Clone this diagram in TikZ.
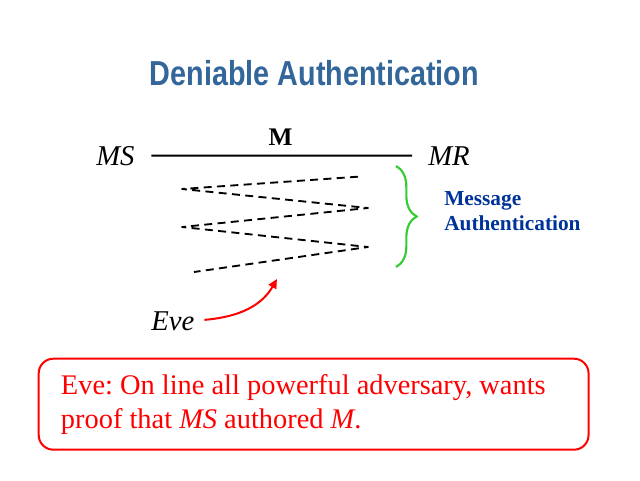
\documentclass[tikz,border=0pt]{standalone}
\usepackage{fontspec}
\setmainfont{Liberation Serif}
\newfontfamily\titlefont{Liberation Sans}[FakeStretch = 0.83]
\usepackage{xcolor}
\usepackage{tikz}
\usetikzlibrary{arrows.meta}
\usetikzlibrary{decorations.pathreplacing}
\definecolor{titleblue}{RGB}{51,102,153}
\definecolor{noteblue}{RGB}{0,51,153}
\definecolor{bracegreen}{RGB}{51,204,51}
\tikzset{ 
title text/.style = { inner sep = 0pt, text = titleblue, font = \titlefont\bfseries\fontsize{26}{30}\selectfont },
party/.style = { inner sep = 0pt, font = \itshape\fontsize{21.5}{26}\selectfont },
msg label/.style = { inner sep = 0pt, font = \bfseries\fontsize{19}{23}\selectfont },
note text/.style = { inner sep = 0pt, text = noteblue, font = \bfseries\fontsize{16}{19}\selectfont },
main line/.style = { draw = black, line width = 1.5pt },
msg line/.style = { draw = black, line width = 1.4pt, line join = round, dash pattern = on 6pt off 4pt },
green brace/.style = { draw = bracegreen, line width = 1.6pt, decorate, decoration = { brace, amplitude = 15.5pt } },
eve arrow/.style = { draw = red, line width = 1.5pt, -{Triangle[length = 7pt, width = 6.5pt]} },
eve box/.style = { rectangle, draw = red, line width = 1.5pt, rounded corners = 11pt, text = red, align = flush left, text width = 379pt, inner xsep = 16.7pt, inner ysep = 0pt, minimum height = 68.25pt, font = \fontsize{21.3}{25.5}\selectfont\frenchspacing },
}

\begin{document}
\begin{tikzpicture}[x = 0.75pt, y = 0.75pt]
    \useasboundingbox (0, 0) rectangle (640, 480);
    % title
    \node[title text, anchor = base] (title) at (314.5, 394.3) {Deniable Authentication};
    % sender and receiver
    \node[party, anchor = base west] (ms) at (96, 315) {MS};
    \node[party, anchor = base west] (mr) at (428, 315) {MR};
    \draw[main line, shorten <= 12.5pt, shorten >= 12pt] (ms) -- (mr);
    \node[msg label, anchor = base] (msg) at (280.5, 335) {M};
    % authentication exchange
    \coordinate (a1) at (358, 303.3);
    \coordinate (b1) at (182, 291);
    \coordinate (a2) at (368, 272);
    \coordinate (b2) at (182, 253);
    \coordinate (a3) at (368, 233);
    \coordinate (b3) at (194, 208);
    \draw[msg line] (a1) -- (b1) -- (a2) -- (b2) -- (a3) -- (b3);
    \coordinate (brace top) at (396, 314);
    \coordinate (brace bottom) at (396, 213);
    \draw[green brace] (brace top) -- (brace bottom);
    \node[note text, anchor = base west] (note1) at (444, 275) {Message};
    \node[note text, anchor = base west] (note2) at (444, 250) {Authentication};
    % adversary
    \node[party, anchor = base west] (eve) at (151, 150) {Eve};
    \coordinate (tap) at (277, 201);
    \draw[eve arrow, shorten <= 7.5pt] (eve.east) to[out = 5, in = -120] (tap);
    \node[eve box, anchor = north west] (box) at (37.7, 122.3) {Eve: On line all powerful adversary, wants\\proof that \textit{MS} authored \textit{M}.};
\end{tikzpicture}
\end{document}
